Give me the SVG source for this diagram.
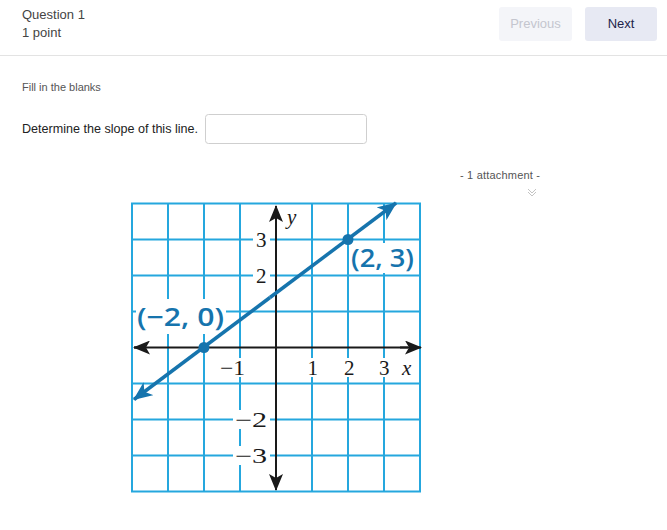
<svg xmlns="http://www.w3.org/2000/svg" width="667" height="530" viewBox="0 0 667 530">
<defs>
<style>
.ui{font-family:"Liberation Sans",Arial,sans-serif}
.grid{stroke:#25a7de;stroke-width:2;fill:none}
.axis{stroke:#1a1a1a;stroke-width:2;fill:none}
.num{font-family:"Liberation Serif","Times New Roman",serif;font-size:21px;fill:#1a1a1a}
.var{font-family:"Liberation Serif","Times New Roman",serif;font-size:21px;font-style:italic;fill:#1a1a1a}
.pt{font-family:"Open Sans","Liberation Sans",sans-serif;font-size:25px;font-weight:600;fill:#1674ad}
.bg{fill:#ffffff}
</style>
<marker id="ak" markerUnits="userSpaceOnUse" markerWidth="18" markerHeight="14" viewBox="0 0 18 14" refX="16" refY="7" orient="auto">
<path d="M0,0 L17,7 L0,14 L4,7 Z" fill="#1a1a1a"/>
</marker>
<marker id="ab" markerUnits="userSpaceOnUse" markerWidth="20" markerHeight="16" viewBox="0 0 20 16" refX="18" refY="8" orient="auto">
<path d="M0,0 L19,8 L0,16 L5,8 Z" fill="#1674ad"/>
</marker>
</defs>
<rect width="667" height="530" fill="#ffffff"/>

<g id="header">
<text class="ui" x="22" y="19" font-size="13" fill="#444">Question 1</text>
<text class="ui" x="22" y="37" font-size="13" fill="#444">1 point</text>
<line x1="0" y1="55.5" x2="667" y2="55.5" stroke="#e3e3e3" stroke-width="1"/>
</g>
<g id="btn-previous">
<rect x="499" y="7" width="73" height="34" rx="3" fill="#f4f5f9"/>
<text class="ui" x="535.5" y="28" font-size="13" fill="#c4c6cf" text-anchor="middle">Previous</text>
</g>
<g id="btn-next">
<rect x="585" y="7" width="72" height="34" rx="3" fill="#e7e9f3"/>
<text class="ui" x="621" y="28" font-size="13" fill="#23244a" text-anchor="middle">Next</text>
</g>
<g id="question">
<text class="ui" x="22" y="91" font-size="11" fill="#555">Fill in the blanks</text>
<text class="ui" x="22" y="133" font-size="13" fill="#222" textLength="176" lengthAdjust="spacingAndGlyphs">Determine the slope of this line.</text>
<rect x="205.5" y="114.5" width="161" height="29" rx="3" fill="#fff" stroke="#cfcfcf" stroke-width="1"/>
</g>
<g id="attachment">
<text class="ui" x="460" y="179" font-size="11" fill="#555" textLength="80">- 1 attachment  -</text>
<path d="M528,189 L532,193 L536,189 M528,192 L532,196 L536,192" fill="none" stroke="#c4c4c4" stroke-width="1"/>
</g>

<g id="grid">
<rect class="grid" x="132" y="203.5" width="288" height="288"/>
<path class="grid" d="M168,203.5V491.5M204,203.5V491.5M240,203.5V491.5M312,203.5V491.5M348,203.5V491.5M384,203.5V491.5M132,239.5H420M132,275.5H420M132,311.5H420M132,383.5H420M132,419.5H420M132,455.5H420"/>
</g>

<g id="label-bgs">
<rect class="bg" x="253" y="230" width="17" height="19"/>
<rect class="bg" x="253" y="266" width="17" height="19"/>
<rect class="bg" x="218" y="358" width="30" height="19"/>
<rect class="bg" x="306" y="358" width="13" height="19"/>
<rect class="bg" x="342" y="358" width="15" height="19"/>
<rect class="bg" x="378" y="358" width="14" height="19"/>
<rect class="bg" x="400" y="358" width="18" height="19"/>
<rect class="bg" x="233" y="410" width="37" height="19"/>
<rect class="bg" x="233" y="446" width="37" height="19"/>
<rect class="bg" x="284" y="207" width="18" height="22"/>
<rect class="bg" x="136" y="299" width="90" height="35"/>
<rect class="bg" x="350" y="243" width="66" height="30"/>
</g>

<g id="connectors">
<line class="axis" x1="146" y1="347.5" x2="134" y2="347.5" marker-end="url(#ak)"/>
<line class="axis" x1="400" y1="347.5" x2="421" y2="347.5" marker-end="url(#ak)"/>
<line class="axis" x1="276" y1="347.5" x2="134" y2="347.5"/>
<line class="axis" x1="276" y1="347.5" x2="408" y2="347.5"/>
<line class="axis" x1="276" y1="220" x2="276" y2="475"/>
<line class="axis" x1="276" y1="260" x2="276" y2="206" marker-end="url(#ak)"/>
<line class="axis" x1="276" y1="440" x2="276" y2="490" marker-end="url(#ak)"/>
<line x1="270" y1="297.5" x2="134" y2="399.5" stroke="#1674ad" stroke-width="3.5" marker-end="url(#ab)"/>
<line x1="270" y1="297.5" x2="396" y2="203" stroke="#1674ad" stroke-width="3.5" marker-end="url(#ab)"/>
</g>

<g id="axis-labels">
<text class="num" x="256" y="247">3</text>
<text class="num" x="256" y="283">2</text>
<text class="num" x="220" y="375" textLength="25" lengthAdjust="spacingAndGlyphs">−1</text>
<text class="num" x="307.5" y="375">1</text>
<text class="num" x="344" y="375">2</text>
<text class="num" x="379" y="375">3</text>
<text class="var" x="402" y="375">x</text>
<text class="var" x="287" y="224">y</text>
<text class="num" x="235" y="427" textLength="32" lengthAdjust="spacingAndGlyphs">−2</text>
<text class="num" x="235" y="463" textLength="32" lengthAdjust="spacingAndGlyphs">−3</text>
</g>

<g id="point-a">
<circle cx="204" cy="347.5" r="5.5" fill="#1674ad"/>
<text class="pt" x="137" y="326" textLength="87" lengthAdjust="spacingAndGlyphs">(−2, 0)</text>
</g>
<g id="point-b">
<circle cx="348" cy="239.5" r="5.5" fill="#1674ad"/>
<text class="pt" x="351" y="267" textLength="63" lengthAdjust="spacingAndGlyphs">(2, 3)</text>
</g>
</svg>
